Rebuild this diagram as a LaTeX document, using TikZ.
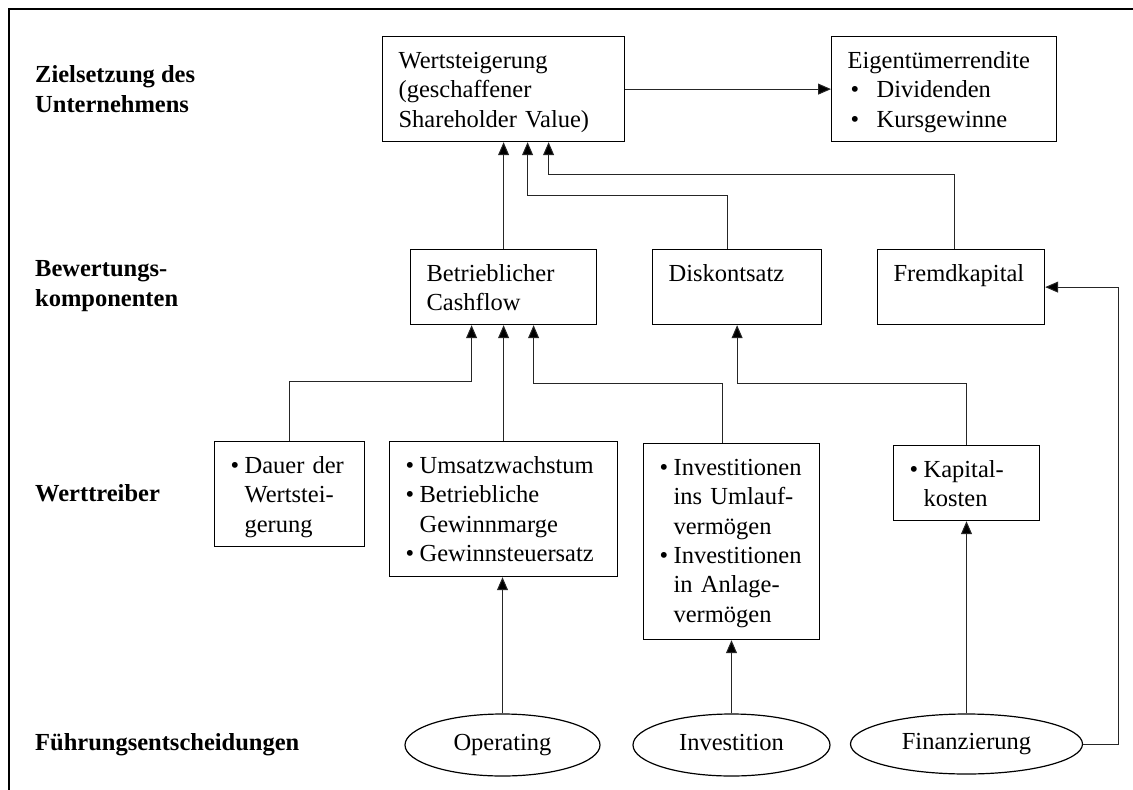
\documentclass[tikz,border=0pt]{standalone}
\usepackage{fontspec}
\setmainfont{Liberation Serif}
\usetikzlibrary{arrows.meta, shapes.geometric}
\newcommand{\itembul}{\makebox[14pt][l]{\textbullet}}
\newcommand{\itemind}{\hspace*{14pt}}
\begin{document}
\begin{tikzpicture}
  [
    x = 1pt, y = -1pt,
    every node/.style = {font = \fontsize{24.5}{29.3}\selectfont},
    box/.style = {draw, rectangle, line width = 1.2pt, anchor = north west, align = left, inner xsep = 16pt, inner ysep = 0pt, text height = 32pt},
    oval/.style = {draw, ellipse, line width = 1.2pt, inner sep = 0pt, minimum height = 62pt, text height = 17pt, text depth = 6pt},
    rowlabel/.style = {anchor = west, align = left, inner sep = 0pt, font = \fontsize{24.5}{29.3}\selectfont\bfseries},
    conn/.style = {line width = 1pt, black!85},
    > = {Triangle[length = 13pt, width = 11pt, fill = black]}
  ]
    \useasboundingbox (0,0) rectangle (1133,790);
    \draw [line width = 1.8pt] (9,790) -- (9,9) -- (1133,9);
    % row labels
    \node (ziel) [rowlabel] at (35,89) {Zielsetzung des\\Unternehmens};
    \node (bewert) [rowlabel] at (35,286) {Bewertungs-\\komponenten};
    \node (treiber) [rowlabel] at (35,493) {Werttreiber};
    \node (fuehrung) [rowlabel] at (35,745) {Führungsentscheidungen};
    % boxes
    \node (werts) [box, text width = 210pt, text depth = 73pt] at (382,36) {Wertsteigerung\\(geschaffener\\Shareholder~Value)};
    \node (eigen) [box, text width = 193pt, text depth = 73pt] at (831,36) {Eigentümerrendite\\\hspace*{3pt}\makebox[26pt][l]{\textbullet}Dividenden\\\hspace*{3pt}\makebox[26pt][l]{\textbullet}Kursgewinne};
    \node (betr) [box, text width = 154pt, text depth = 43pt] at (410,249) {Betrieblicher\\Cashflow};
    \node (disk) [box, text width = 137pt, text depth = 43pt] at (652,249) {Diskontsatz};
    \node (fremd) [box, text width = 135pt, text depth = 43pt] at (877,249) {Fremdkapital};
    \node (dauer) [box, text width = 118pt, text depth = 73pt] at (214,441) {\itembul Dauer~der\\\itemind Wertstei-\\\itemind gerung};
    \node (umsatz) [box, text width = 196pt, text depth = 103pt] at (389,441) {\itembul Umsatzwachstum\\\itembul Betriebliche\\\itemind Gewinnmarge\\\itembul Gewinnsteuersatz};
    \node (invest) [box, text width = 144pt, text depth = 164pt] at (643,443) {\itembul Investitionen\\\itemind ins~Umlauf-\\\itemind vermögen\\\itembul Investitionen\\\itemind in~Anlage-\\\itemind vermögen};
    \node (kapital) [box, text width = 114pt, text depth = 43pt] at (893,445) {\itembul Kapital-\\\itemind kosten};
    % decisions
    \node (oper) [oval, minimum width = 195pt] at (502.5,745) {Operating};
    \node (inv) [oval, minimum width = 197pt] at (731.5,745) {Investition};
    \node (fin) [oval, minimum width = 232pt, minimum height = 60pt] at (966.5,744) {Finanzierung};
    % connectors
    \draw [conn, ->] (werts.east) -- (eigen.west);
    \draw [conn, ->] (betr.north) -- (betr.north |- werts.south);
    \draw [conn, ->] ([xshift = -9.5pt]disk.north) -- ++(0,-54) -| ([xshift = 24pt]werts.south);
    \draw [conn, ->] ([xshift = -6.5pt]fremd.north) -- ++(0,-75) -| ([xshift = 45pt]werts.south);
    \draw [conn, ->] (dauer.north) -- ++(0,-60) -| ([xshift = -32pt]betr.south);
    \draw [conn, ->] (umsatz.north) -- (umsatz.north |- betr.south);
    \draw [conn, ->] ([xshift = -9pt]invest.north) -- ++(0,-60) -| ([xshift = 30pt]betr.south);
    \draw [conn, ->] (kapital.north) -- ++(0,-62) -| (disk.south);
    \draw [conn, ->] (oper.north) -- (oper.north |- umsatz.south);
    \draw [conn, ->] (inv.north) -- (inv.north |- invest.south);
    \draw [conn, ->] (fin.north) -- (fin.north |- kapital.south);
    \draw [conn, ->] (fin.east) -- ++(35,0) |- (fremd.east);
\end{tikzpicture}
\end{document}
